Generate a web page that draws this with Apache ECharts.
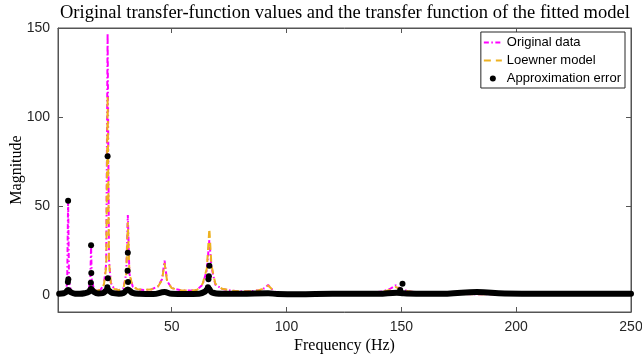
<!DOCTYPE html>
<html>
<head>
<meta charset="utf-8">
<script src="https://cdn.jsdelivr.net/npm/echarts@6/dist/echarts.min.js"></script>
<style>
  html, body { margin: 0; padding: 0; background: #fff; }
  #chart { width: 642px; height: 356px; }
</style>
</head>
<body>
<div id="chart"></div>
<script>
// Frequency grid (Hz), denser around the resonances
const freq = [1, 2, 3, 4, 4.5, 4.9, 5.3, 6, 7, 9, 11, 13, 14, 14.6, 14.9, 15.2, 16, 17, 19, 20.5,
  21.5, 22.1, 22.7, 23.5, 25, 27, 29, 30.2, 30.9, 31.6, 33, 35, 38, 41, 44, 45.8, 46.9, 48, 50, 54,
  58, 61, 63.5, 65.3, 66.4, 67.3, 69, 72, 76, 80, 84, 88, 90.5, 92, 93.5, 96, 100, 110, 120, 130,
  138, 142, 145, 147.5, 150, 153, 158, 165, 175, 190, 210, 230, 250];

const original = [1.0, 1.2, 1.6, 3.0, 7, 53, 8, 3, 2, 1.5, 1.6, 2.2, 4, 10, 28, 9, 4, 2.8, 3, 6,
  18, 147, 20, 7, 3.5, 2.8, 4, 12, 45, 12, 5, 3.4, 3, 3.2, 5, 9, 19.5, 8, 4, 2.8,
  2.6, 3, 6, 14, 31, 16, 6, 3.5, 2.6, 2.2, 2.2, 2.8, 4, 5.8, 3.5, 1.2, 0.6, 0.5, 0.6, 1,
  1.5, 2.2, 3.5, 5.6, 3.5, 2.2, 1.4, 0.9, 0.7, 0.5, 0.4, 0.3, 0.3];

const loewner = [1.0, 1.2, 1.5, 2.2, 2.6, 3.0, 2.8, 2.4, 2, 1.5, 1.6, 2.0, 2.6, 3, 3.2, 3.1, 2.8, 2.6, 3, 6,
  16, 112, 19, 7, 3.5, 2.8, 4, 11, 41, 12, 5, 3.4, 3, 3.2, 4.8, 8.5, 18, 8, 4, 2.8,
  2.6, 3, 6.5, 15, 37.5, 17, 6.5, 3.6, 2.6, 2.2, 2.2, 2.8, 4, 5.5, 3.6, 1.2, 0.6, 0.5, 0.6, 1,
  1.4, 2, 3, 4.6, 3.4, 2.2, 1.4, 0.9, 0.7, 0.5, 0.4, 0.3, 0.3];

// Approximation error: dense baseline of markers...
const errFreq = [1, 3, 4, 4.9, 6, 8, 10, 12, 14, 14.9, 16, 18, 20, 22.1, 24, 27, 29, 30.9, 33, 36,
  42, 46.9, 50, 56, 62, 64.5, 66, 67.5, 72, 80, 92, 96, 105, 120, 140, 148, 151, 160, 170, 183,
  195, 210, 230, 250];
const errBase = [0.9, 1.1, 1.8, 3.0, 1.8, 0.9, 0.8, 1.1, 2.0, 3.6, 2.0, 1.0, 1.2, 3.0, 1.3, 0.9, 1.3, 3.2, 1.3, 0.8,
  0.7, 1.8, 0.8, 0.7, 0.9, 2.0, 4.0, 1.6, 0.8, 0.8, 1.1, 0.7, 0.5, 0.8, 0.8, 1.4, 1.1, 0.8, 0.9, 1.8,
  1.0, 0.9, 0.9, 0.9];
// ...and the isolated error points near the peaks
const errPeakFreq = [4.8, 4.9, 5.0, 14.8, 14.9, 15.0, 22.0, 22.1, 22.2, 30.8, 30.9, 31.0, 65.8, 66.0, 66.2, 66.4, 149.5, 150.5];
const errPeakVal = [7.5, 53, 9, 7, 28, 12.5, 4.5, 78, 9.5, 13.7, 23.8, 7.5, 4.5, 9, 10.7, 16.5, 3, 6.5];

const xTicks = [50, 100, 150, 200, 250];
const yTicks = [0, 50, 100, 150];

const zip = (xs, ys) => xs.map((x, i) => [x, ys[i]]);

const AXIS = '#555555';
const TXT = '#262626';
const SERIF = '"Liberation Serif", "DejaVu Serif", serif';
const SANS = '"Liberation Sans", Arial, sans-serif';

const chart = echarts.init(document.getElementById('chart'), null, { renderer: 'canvas' });

const xBase = {
  type: 'value', min: 0.5, max: 250,
  axisLine: { onZero: false, lineStyle: { color: AXIS, width: 1 } },
  axisTick: { inside: true, length: 5, customValues: xTicks, lineStyle: { color: AXIS } },
  splitLine: { show: false },
};
const yBase = {
  type: 'value', min: -9.4, max: 150,
  axisLine: { onZero: false, lineStyle: { color: AXIS, width: 1 } },
  axisTick: { inside: true, length: 5, customValues: yTicks, lineStyle: { color: AXIS } },
  splitLine: { show: false },
};

const noSymbol = { opacity: 0 };

chart.setOption({
  animation: false,
  backgroundColor: '#fff',
  title: {
    text: 'Original transfer-function values and the transfer function of the fitted model',
    left: 55, top: -1,
    textStyle: { fontFamily: SERIF, fontSize: 18.5, fontWeight: 'normal', color: '#000' },
  },
  grid: {
    left: 58, right: 11, top: 28, bottom: 44,
    outerBoundsMode: 'none', containLabel: false,
    show: true, borderColor: AXIS, borderWidth: 1,
  },
  legend: {
    data: [
      { name: 'Original data', itemStyle: noSymbol },
      { name: 'Loewner model', itemStyle: noSymbol },
      { name: 'Approximation error' },
    ],
    orient: 'vertical', right: 17, top: 32,
    itemWidth: 18, itemHeight: 6, itemGap: 5,
    padding: [4, 4, 3, 2],
    backgroundColor: '#fff', borderColor: '#262626', borderWidth: 1,
    textStyle: { fontFamily: SANS, fontSize: 13, color: '#000' },
  },
  xAxis: [
    {
      ...xBase, position: 'bottom',
      name: 'Frequency (Hz)', nameLocation: 'middle', nameGap: 26, nameMoveOverlap: false,
      nameTextStyle: { fontFamily: SERIF, fontSize: 16, color: '#000' },
      axisLabel: { customValues: xTicks, fontFamily: SANS, fontSize: 14, color: TXT, margin: 8 },
    },
    { ...xBase, position: 'top', axisLabel: { show: false } },
  ],
  yAxis: [
    {
      ...yBase, position: 'left',
      name: 'Magnitude', nameLocation: 'middle', nameGap: 33, nameMoveOverlap: false,
      nameTextStyle: { fontFamily: SERIF, fontSize: 16, color: '#000' },
      axisLabel: { customValues: yTicks, fontFamily: SANS, fontSize: 14, color: TXT, margin: 8 },
    },
    { ...yBase, position: 'right', axisLabel: { show: false } },
  ],
  series: [
    {
      name: 'Original data', type: 'line', symbol: 'none', z: 2,
      data: zip(freq, original),
      lineStyle: { color: '#FF00FF', width: 2, type: [5, 2.5, 1.5, 2.5] },
      itemStyle: { color: '#FF00FF' },
    },
    {
      name: 'Loewner model', type: 'line', symbol: 'none', z: 3,
      data: zip(freq, loewner),
      lineStyle: { color: '#EDB120', width: 2, type: [7, 5] },
      itemStyle: { color: '#EDB120' },
    },
    {
      name: 'error band', type: 'line', symbol: 'none', smooth: 0.4, silent: true, z: 4,
      data: zip(errFreq, errBase),
      lineStyle: { color: '#000', width: 6, cap: 'round', join: 'round' },
      itemStyle: { color: '#000' },
    },
    {
      name: 'Approximation error', type: 'scatter', symbol: 'circle', symbolSize: 6, z: 5,
      data: zip(errPeakFreq, errPeakVal),
      itemStyle: { color: '#000', opacity: 1 },
    },
  ],
});
</script>
</body>
</html>
